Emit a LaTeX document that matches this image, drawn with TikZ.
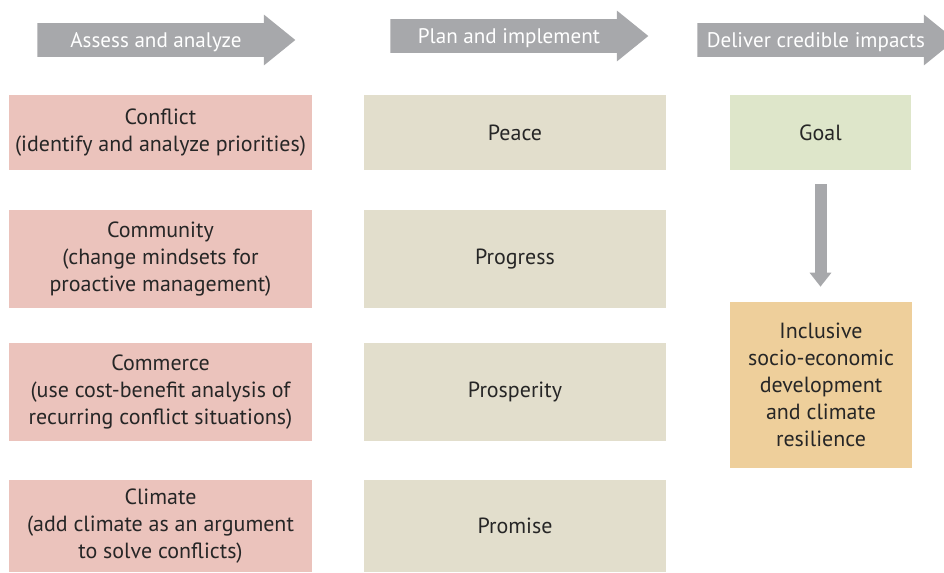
\documentclass[tikz,border=0pt]{standalone}
\usepackage{fontspec}
\setmainfont{PT Sans}
\usetikzlibrary{shapes.arrows, arrows.meta}
\definecolor{stepgray}{HTML}{A7A8AB}
\definecolor{assesspink}{HTML}{EBC3BC}
\definecolor{planbeige}{HTML}{E2DECC}
\definecolor{goalgreen}{HTML}{DEE6CA}
\definecolor{outcomeorange}{HTML}{EECF9B}

\begin{document}
\begin{tikzpicture}[x=0.02cm, y=-0.02cm,
	header/.style={shape=single arrow, fill=stepgray, text=white, anchor=tail, inner xsep=0pt, inner ysep=0pt,
		text height=13.6pt, text depth=5.2pt, minimum height=5.16cm, single arrow head extend=0.17cm,
		single arrow tip angle=78, font=\fontsize{12}{15}\selectfont},
	box/.style={rectangle, align=center, inner sep=2pt, text=black!85, font=\fontsize{12.5}{15.3}\selectfont},
	assessbox/.style={box, fill=assesspink, minimum width=6.06cm},
	planbox/.style={box, fill=planbeige, minimum width=6.04cm}]
			\useasboundingbox (0,0) rectangle (944,572);
			\node [header] (assess) at (37,40) {Assess and analyze};
			\node [header] (plan) at (390,36) {Plan and implement};
			\node [header] (deliver) at (697,40) {Deliver credible impacts};
			\node [assessbox, minimum height=1.5cm] (conflict) at (160.5,132.5) {Conflict\\(identify and analyze priorities)};
			\node [assessbox, minimum height=1.96cm] (community) at (160.5,259) {Community\\(change mindsets for\\proactive management)};
			\node [assessbox, minimum height=1.96cm] (commerce) at (160.5,392) {Commerce\\(use cost-benefit analysis of\\recurring conflict situations)};
			\node [assessbox, minimum height=1.84cm] (climate) at (160.5,526) {Climate\\(add climate as an argument\\to solve conflicts)};
			\node [planbox, minimum height=1.5cm] (peace) at (515,132.5) {Peace};
			\node [planbox, minimum height=1.96cm] (progress) at (515,259) {Progress};
			\node [planbox, minimum height=1.96cm] (prosperity) at (515,392) {Prosperity};
			\node [planbox, minimum height=1.84cm] (promise) at (515,526) {Promise};
			\node [box, fill=goalgreen, minimum width=3.62cm, minimum height=1.5cm] (goal) at (820.5,132.5) {Goal};
			\node [box, fill=outcomeorange, minimum width=3.64cm, minimum height=3.32cm] (outcome) at (821,385) {Inclusive\\socio-economic\\development\\and climate\\resilience};
			\draw [stepgray, line width=0.24cm, shorten <=0.28cm, shorten >=0.3cm, -{Triangle[width=0.42cm, length=0.28cm]}] (goal) -- (goal |- outcome.north);
		\end{tikzpicture}
\end{document}
